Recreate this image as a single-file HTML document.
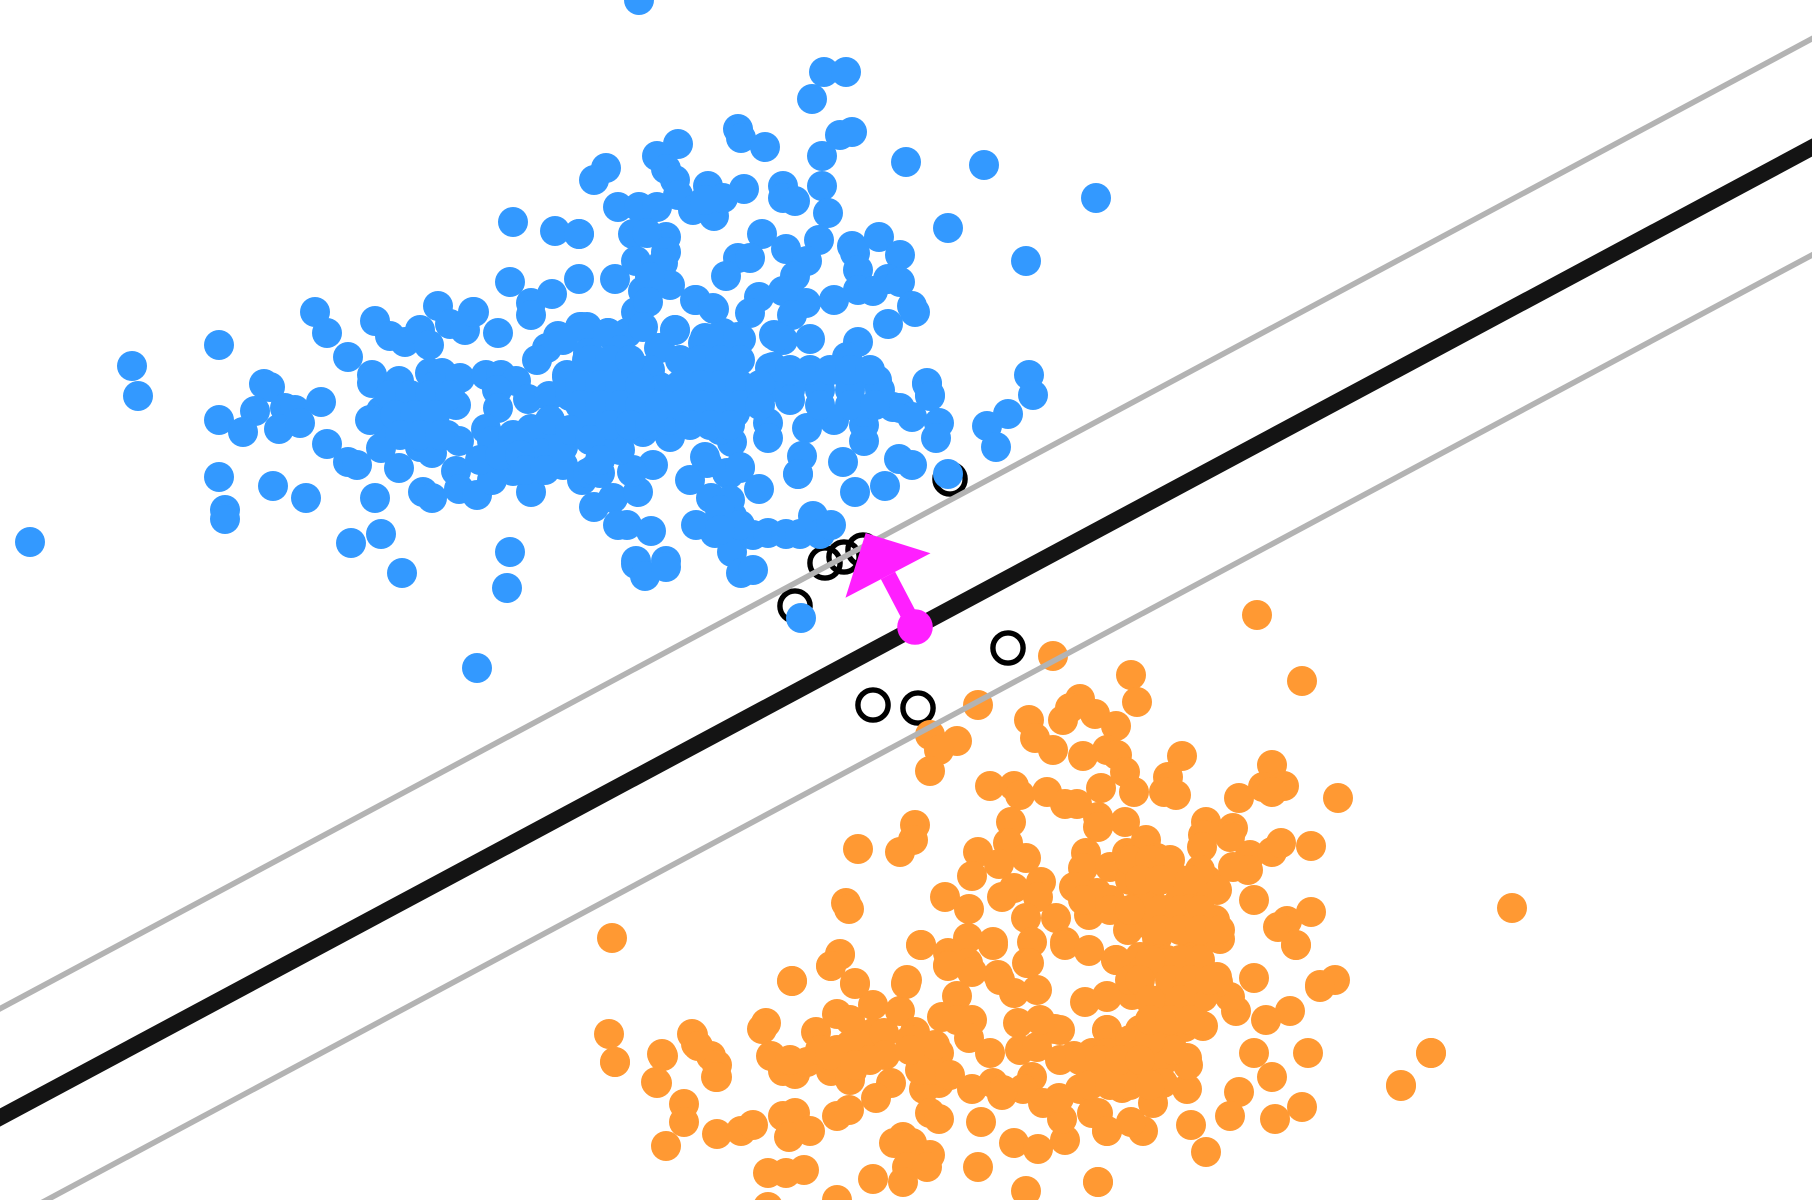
<!DOCTYPE html>
<html lang="en">
<head>
<meta charset="utf-8">
<title>Support vector machine decision boundary</title>
<style>
html,body{margin:0;padding:0;background:#fff;width:1812px;height:1200px;overflow:hidden}
svg{display:block}
</style>
</head>
<body>
<svg id="chart" xmlns="http://www.w3.org/2000/svg" width="1812" height="1200" viewBox="0 0 1812 1200">
<g id="support-layer"></g>
<g id="orange-layer"></g>
<g id="blue-layer"></g>
<g id="line-layer"></g>
<g id="arrow-layer"></g>
</svg>
<script>
var bluePoints = [[6.39,0],[8.24,.72],[8.46,.72],[8.12,.99],[7.38,1.29],[7.41,1.38],[7.65,1.47],[8.4,1.35],[8.52,1.32],[8.22,1.56],[9.06,1.62],[9.84,1.65],[10.96,1.98],[8.22,1.86],[8.28,2.13],[9.48,2.28],[10.26,2.61],
[6.78,1.44],[6.57,1.56],[6.66,1.69],[6.75,1.8],[6.06,1.68],[5.94,1.8],[7.08,1.86],[7.44,1.89],[7.83,1.86],[7.83,1.98],[7.95,2.01],[6.18,2.07],[6.39,2.07],[6.57,2.07],[6.78,1.95],[6.93,2.1],[7.14,2.16],[7.23,1.98],[7.05,2],
[6.33,2.34],[6.66,2.37],[6.47,2.33],[5.79,2.34],[5.79,2.79],[6.15,2.79],[7.62,2.34],[8.19,2.4],[8.52,2.46],[8.55,2.53],[8.79,2.37],[9,2.55],[7.38,2.58],[7.5,2.58],[7.26,2.76],[7.86,2.49],[8.07,2.61],[7.95,2.76],[8.58,2.7],[8.88,2.79],[9,2.82],[8.58,2.9],[8.73,2.91],[8.34,3],[8.06,3.03],[7.83,2.91],[7.59,2.97],[7.5,3.13],[7.92,3.15],[9.12,3.06],[9.15,3.12],[8.88,3.24],[7.74,3.35],[8.1,3.39],[8.58,3.42],[8.47,3.57],[7.83,3.4],
[6.36,2.61],[6.66,2.52],[6.63,2.63],[6.43,2.91],[6.7,2.85],[6.5,2.77],[6.36,3.12],[6.48,3.02],[6.95,3],[7.14,3.09],[6.75,3.3],[6.59,3.48],[7.05,3.38],[7.41,3.39],[7.23,3.33],[7.37,3.55],[6.9,3.63],[7.23,3.7],[7.7,3.68],[7.5,3.9],
[8,3.75],[8.23,3.75],[8.47,3.75],[8.67,3.72],[8.77,3.8],[9.27,3.83],[9.3,3.95],[8.93,4.07],[5.87,3.27],[6.08,3.33],[6.27,3.33],[5.87,3.6],[6.13,3.6],[6.4,3.7],[6.5,3.83],[5.87,3.87],[6.07,3.87],[6.23,3.87],[6.87,3.9],[7.13,3.93],[7.73,3.87],
[2.19,3.45],[3.15,3.12],[3.27,3.33],[3.48,3.57],[3.75,3.21],[3.9,3.36],[4.05,3.42],[4.2,3.3],[4.29,3.45],[4.38,3.06],[4.5,3.24],[4.65,3.3],[4.74,3.12],[4.98,3.33],[5.1,2.82],[5.31,3.03],[5.31,3.15],[5.52,2.94],[5.58,3.36],[5.47,3.48],[5.37,3.6],[5.8,3.27],[5.88,3.55],
[2.64,3.84],[2.7,3.87],[2.55,4.11],[2.19,4.2],[2.43,4.32],[2.85,4.08],[2.95,4.1],[2.79,4.29],[3,4.23],[3.21,4.02],[3.27,4.44],[3.48,4.62],[3.57,4.65],[3.81,4.48],[3.99,4.68],[3.72,3.75],[3.72,3.83],[3.99,3.81],[3.81,4.11],[3.84,4.23],[4.03,4.27],[4.3,3.73],[4.42,3.73],[4.6,3.78],[4.33,3.87],[4.13,3.97],[4.17,4.2],[4.33,4.13],[4.2,4.47],[4.32,4.53],[4.47,4.35],[4.59,4.41],[4.56,4.05],[4.86,3.75],[5.01,3.75],[5.16,3.81],[4.97,3.9],[4.98,4.08],[5.28,3.99],[5.49,3.96],[5.7,3.96],[5.67,3.75],[4.86,4.29],[4.92,4.41],[5.13,4.35],[5.31,4.29],[5.13,4.71],[5.33,4.7],[5.55,4.44],[5.4,4.53],[5.63,4.65],[5.82,4.29],[5.82,4.8],[5.88,4.73],[4.56,4.71],[4.59,4.89],[4.77,4.95],[4.92,4.8],[5.31,4.92],[5.94,5.07],
[4.23,4.92],[4.32,4.98],[3.75,4.98],[2.73,4.86],[3.06,4.98],[2.19,4.77],[2.25,5.1],[2.25,5.19],[3.51,5.43],[3.81,5.34],[4.02,5.73],[5.1,5.52],[5.07,5.88],[1.32,3.66],[1.38,3.96],[.3,5.42],[4.77,6.68],
[5.13,2.22],[5.55,2.31],[5.79,2.34],[4.73,3.12],[6.33,4.7],[6.53,4.65],[6,4.73],[6.13,4.98],[6.38,4.92],[6.27,5.25],[6.18,5.25],[6.51,5.31],[6.36,5.61],[6.36,5.64],[6.45,5.76],[6.66,5.61],[6.66,5.67],[6.9,4.8],[7.11,4.98],[6.96,5.25],[7.15,5.33],[7.32,5.16],[7.32,5.52],[7.41,5.73],[7.53,5.7],[7.53,5.35],[7.68,5.33],[7.86,5.34],[8,5.34],[8.13,5.16],[7.59,4.89],[7.29,4.74],[7.4,4.68],[7.07,4.63],[7.98,4.74],[8.01,6.18],[8.2,5.34],[8.31,5.25],
[6.96,3],[7.13,3.08],[5.82,3.27],[5.63,3.4],[6.08,3.33],[5.88,3.53],[5.67,3.77],[6.6,3.48],[6.75,3.3],[6.43,3.27],[7.03,3.43],[7.38,3.37],[6.9,3.63],[7.23,3.72],[7.77,3.37],[7.73,3.67],[8,3.77],[6.6,3.87],[6.03,3.9],[6.33,3.8],[5.7,3.93],[5.8,4.3],[5.63,4.47],[6.43,4.32],[6.7,4.37],[7.03,4.2],[7.32,4.42],[7.05,4.57],[7.27,4.73],[7.4,4.67],[5.93,4.7],[6.32,4.72],[7.68,4.23],[7.68,4.38],[7.49,3.95],[7.35,4.13],[7.17,3.93],[8.34,4.2],[8.64,4.41],[8.64,4.25],[8.64,4.12],[8.07,4.28],[8.43,4.62],[8.02,4.56],[7.98,4.74],[8.55,4.92],[8.85,4.86],[8.99,4.59],[9.12,4.65],[9.48,4.74],[10.29,3.75],[10.33,3.95],[10.08,4.14],[9.87,4.26],[9.96,4.47],[9,4.08],[9.12,4.17],[9.27,3.84],[9.3,3.96],[9.39,4.23],[9.36,4.38],
[6.2,3.5],[6.5,3.7],[6.2,4.1],[6.5,4.1],[6.1,4.4],[6.8,4.1],[6,4.2],[7,4],[6.6,3.9],[6.2,4.5],[6.7,4.2],[7.2,4.3],[5.5,4.2],[5.2,4.6],[4.8,4.6],[3.7,4.2],[4,4.1],
[5.9,3.6],[6.1,3.6],[6.3,3.6],[6.8,3.6],[7,3.6],[7.2,3.6],[7.4,3.6],[5.8,3.85],[6,3.85],[6.2,3.85],[6.4,3.85],[6.8,3.85],[7,3.85],[7.2,3.85],[7.4,3.85],[7.6,3.85],[5.8,4.05],[6,4.05],[6.2,4.05],[6.4,4.05],[6.6,4.05],[6.8,4.05],[7,4.05],[7.2,4.05],[7.4,4.05],[7.6,4.05],[5.9,4.25],[6.1,4.25],[6.3,4.25],[6.5,4.25],[6.9,4.25],[7.1,4.25],[7.3,4.25],
[7.9,3.9],[8.2,3.9],[8.5,3.9],[8.8,3.9],[7.9,4],[8.2,4.05],[8.5,4.05],[8.75,4.05],[7.9,3.7],[8.1,3.7],[8.3,3.7],[8.5,3.7],[8.7,3.7],
[3.9,3.95],[4.1,3.95],[4.3,3.95],[4.5,3.95],[3.95,4.15],[4.15,4.15],[4.35,4.15],[4,4.35],[4.2,4.35],[4.4,4.35],[5,4.55],[5.2,4.55],[5.25,4.7],[5.45,4.7],[5.7,4.3],[5.9,4.4],[6,4.6],[7.3,5],[7.2,5.1],[7.4,5.25],[7.2,5.3]];

var orangePoints = [[9.78,7.05],[9.3,7.35],[9.57,7.41],[9.39,7.5],[9.3,7.71],[11.31,6.75],[11.37,7.02],[13.02,6.81],[12.57,6.15],[10.53,6.56],
[10.29,7.2],[10.35,7.38],[10.53,7.5],[10.63,7.2],[10.8,6.99],[10.7,7.08],[10.95,7.14],[11.16,7.26],[11.07,7.5],[10.83,7.56],[11.17,7.55],[11.25,7.72],[11.34,7.92],[11.82,7.56],[11.68,7.77],[11.64,7.92],[11.76,7.95],[12.72,7.65],[12.63,7.87],[12.84,7.86],[12.72,7.92],[12.39,7.98],[13.38,7.98],
[9.9,7.86],[10.14,7.86],[10.2,7.95],[10.47,7.92],[10.65,8.04],[10.77,8.04],[11.01,7.88],[10.98,8.17],[10.98,8.27],[11.25,8.22],[11.46,8.4],[11.57,8.58],[10.86,8.53],[10.83,8.68],[10.74,8.87],[10.97,8.93],[11.1,8.67],[11.27,8.53],[11.4,8.73],[11.63,8.75],[11.8,8.8],[12.07,8.8],[12.17,8.9],[12.06,8.22],[12.33,8.28],[12.03,8.35],[12.02,8.47],[12.3,8.37],[12.5,8.55],[12.72,8.52],[12.81,8.43],[13.11,8.46],[12.48,8.7],[12.33,8.67],[12,8.7],
[10.11,8.22],[10.08,8.43],[9.78,8.52],[9.99,8.64],[10.26,8.58],[9.72,8.76],[10.14,8.88],[10.02,8.97],[10.41,8.82],[10.38,8.97],[9.45,8.97],[9.69,9.09],[10.26,9.18],[10.56,9.18],[10.89,9.15],[10.83,9],[11.35,9.08],[11.47,8.93],[11.67,9.1],[11.93,8.93],[11.9,9.2],[12.15,9.2],[12.54,9],[13.11,9.12],[12.87,9.21],[12.78,9.27],[12.96,9.45],
[11.28,9.3],[11.57,9.38],[10.65,9.42],[10.89,9.51],[11.16,9.6],[10.32,9.42],[10.29,9.63],[9.93,9.42],[9.68,9.38],[9.21,9.45],[9.48,9.53],[9.48,9.65],[9.68,9.63],[9.98,9.75],[10.27,9.63],[9.07,9.8],[12.54,9.78],[13.35,9.8],[13.2,9.85],[11.4,9.57],[11.67,9.6],[11.93,9.43],[12.2,9.39],[11.93,9.57],[12.17,9.77],
[12.96,9.45],[13.2,9.87],[12.9,10.11],[12.66,10.2],[12.36,10.11],[12.3,9.97],[12.18,9.82],[12.54,10.53],[13.08,10.53],[12.72,10.77],[12.39,10.92],[12.3,11.16],[12.75,11.19],[13.02,11.07],[14.31,10.53],[14.01,10.86],[11.91,11.25],[12.06,11.52],[11.43,11.31],[11.31,11.22],[11.07,11.31],[10.98,11.82],[11.16,9.6],[12.03,10.26],[11.87,10.89],[11.87,10.58],[11.88,10.65],[11.62,10.62],[11.53,11.03],[11.22,10.88],[11.4,10.78],[11.07,10.78],[11.07,9.97],[11.32,9.95],[11.4,10.3],[11.07,10.3],[11.17,10.6],[11.43,9.7],[11.67,9.63],[11.93,9.6],[11.6,10],[11.73,9.83],[12.03,9.97],[11.85,10.27],[11.62,10.27],[11.73,10.5],[11.63,10.83],[10.98,11.13],
[7.92,9.81],[8.31,9.66],[8.4,9.55],[8.55,9.84],[9.06,9.84],[9.21,9.45],[8.73,10.05],[8.37,10.14],[8.5,10.2],[9,10.11],[7.66,10.23],[7.62,10.29],[6.93,10.35],[6.96,10.44],[7.11,10.56],[7.17,10.65],[7.17,10.77],[6.63,10.56],[6.57,10.83],[6.15,10.62],[7.71,10.56],[8.16,10.32],[7.83,10.71],[7.95,10.74],[8.07,10.62],[8.31,10.71],[8.52,10.71],[8.37,10.5],[8.65,10.57],[8.73,10.33],[8.84,10.33],[8.5,10.5],[8.85,10.55],[8.91,10.83],[8.76,10.98],[9.15,10.32],[9.39,10.53],[9.18,10.55],[9.39,10.83],[9.24,10.89],[9.32,10.7],[9.3,11.13],[9.39,11.19],[9.42,10.17],[9.57,9.96],[9.72,10.2],[9.69,10.38],[9.57,10.2],[9.9,10.53],[10.02,10.95],[9.72,10.89],[9.93,10.83],[10.14,11.43],[10.38,11.49],[9.81,11.22],[10.65,11.4],[10.62,11.19],[10.8,10.89],[10.32,10.77],[10.23,10.89],[10.43,11.03],[10.59,10.98],[10.92,11.13],[11.07,11.31],[11.07,10.8],[10.85,10.02],[11.07,9.96],[10.55,10.29],[10.18,10.23],[10.37,9.9],[10.14,9.93],[10,9.8],[9.72,9.72],[9.48,9.66],[10.28,9.63],[9.93,9.45],[10.65,9.45],[10.89,9.5],[10.74,10.56],[10.92,10.53],[10.2,10.5],[10.37,10.47],[11.07,10.3],[11.07,10.53],[10.03,10.9],
[6.84,11.04],[6.84,11.22],[6.66,11.46],[7.17,11.34],[7.41,11.31],[7.53,11.25],[7.83,11.16],[7.95,11.13],[7.89,11.37],[8.1,11.31],[8.37,11.16],[8.49,11.1],[7.68,11.73],[7.86,11.73],[8.04,11.7],[8.73,11.79],[9.03,11.37],[8.94,11.43],[9.12,11.43],[9.3,11.55],[9.07,11.67],[9.27,11.67],[9.03,11.82],[9.78,11.67],[10.26,11.91],[10.98,11.82],[8.37,12],[7.68,12.07],
[8.58,8.49],[8.46,9.03],[8.49,9.09],[9.15,8.25],[9.13,8.4],[9,8.52],[8.4,9.54],[8.31,9.66],[7.92,9.81],[8.55,9.83],[9.06,9.83],
[6.12,9.38],[6.09,10.34],[6.15,10.62],[6.92,10.34],[6.98,10.46],[7.16,10.77],[6.62,10.54],[6.56,10.82],[15.12,9.08],[14.31,10.53],[14.01,10.85],
[11.3,8.8],[11.1,9],[11.5,9],[11.8,9],[11.5,9.25],[11.3,9.8],[11.7,10.1],[11.3,10.4],[11.5,10.4],[10.6,10.3],[10.4,10.2],[11.1,10.8],[11.3,10.85],[9.1,10.4],[8.2,10.5],[7.9,10.6],[8.5,10.8],
[11.3,8.6],[11.5,8.6],[11.7,8.6],[11.4,8.8],[11.6,8.8],[11.9,8.8],[11.1,9.1],[11.3,9.1],[11.6,9.1],[11.8,9.1],[12,9.1],[11.6,9.3],[11.8,9.3],[12,9.3],[12.2,9.3],[11.5,9.6],[11.8,9.6],[12,9.6],[11.4,9.8],[11.7,9.8],[11.9,9.8],[12.1,9.8],[11.5,10],[11.8,10],[11.5,10.2],[11.7,10.2],[11.9,10.2],[10.6,10.6],[10.8,10.6],[11,10.6],[11.2,10.6],[11.4,10.6],[10.9,10.85],[11.1,10.85],[11.5,10.85],[9.2,10.7],[9.35,10.45],[9.1,10.5],[9.5,10.75],[8.5,10.45],[8.7,10.6],[8.3,10.55],[8.55,10.65]];

var supportVectorPoints = [[8.73,7.05],[9.18,7.08],[10.08,6.48],[7.95,6.06],[8.25,5.63],[8.44,5.57],[8.63,5.5],[9.5,4.79]];

var boundarySlope = [-0.5353];
var boundaryIntercept = [11.175];
var marginOffsets = [-1.088, 1.075];
var normalVectorTail = [9.15, 6.27];
var normalVectorTip = [8.657, 5.33];

var NS = 'http://www.w3.org/2000/svg';
function xScale(v){ return v * 100; }
function yScale(v){ return v * 100; }
function lineY(x, offset){ return boundarySlope[0] * x + boundaryIntercept[0] + offset; }

function make(tag, parent, attrs){
  var el = document.createElementNS(NS, tag);
  for (var k in attrs){ el.setAttribute(k, attrs[k]); }
  parent.appendChild(el);
  return el;
}

var supportLayer = document.getElementById('support-layer');
supportVectorPoints.forEach(function(p){
  var el = make('circle', supportLayer, {cx:xScale(p[0]), cy:yScale(p[1]), r:15.1, fill:'none', stroke:'#000', 'stroke-width':5.4});
  
  
});

var orangeLayer = document.getElementById('orange-layer');
orangePoints.forEach(function(p){
  var el = make('circle', orangeLayer, {cx:xScale(p[0]), cy:yScale(p[1]), r:15, fill:'#ff9933'});
  
  
});

var blueLayer = document.getElementById('blue-layer');
bluePoints.forEach(function(p){
  var el = make('circle', blueLayer, {cx:xScale(p[0]), cy:yScale(p[1]), r:15, fill:'#3399ff'});
  
  
});

var lineLayer = document.getElementById('line-layer');
marginOffsets.forEach(function(off){
  var el = make('line', lineLayer, {x1:xScale(-1), y1:yScale(lineY(-1, off)), x2:xScale(19), y2:yScale(lineY(19, off)), stroke:'#b3b3b3', 'stroke-width':5.6});
  
  
});
var boundary = make('line', lineLayer, {x1:xScale(-1), y1:yScale(lineY(-1, 0)), x2:xScale(19), y2:yScale(lineY(19, 0)), stroke:'#141414', 'stroke-width':16.1});



var arrowLayer = document.getElementById('arrow-layer');
var tx = xScale(normalVectorTail[0]), ty = yScale(normalVectorTail[1]);
var hx = xScale(normalVectorTip[0]), hy = yScale(normalVectorTip[1]);
var dx = hx - tx, dy = hy - ty, len = Math.sqrt(dx*dx + dy*dy);
var ux = dx / len, uy = dy / len;
var bx = hx - ux * 48, by = hy - uy * 48;
var shaft = make('line', arrowLayer, {x1:tx, y1:ty, x2:bx, y2:by, stroke:'#ff1fff', 'stroke-width':16});


var head = make('polygon', arrowLayer, {points:[hx+','+hy, (bx-uy*48)+','+(by+ux*48), (bx+uy*48)+','+(by-ux*48)].join(' '), fill:'#ff1fff'});


var anchor = make('circle', arrowLayer, {cx:tx, cy:ty, r:17.8, fill:'#ff1fff'});


</script>
</body>
</html>
